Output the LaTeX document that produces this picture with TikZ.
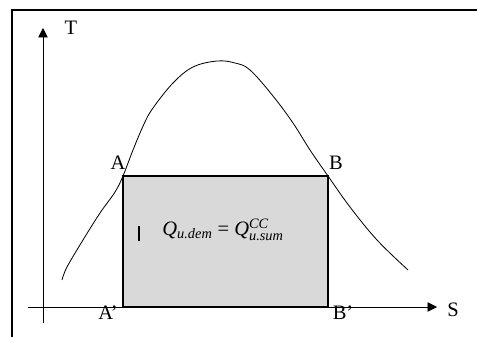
\documentclass[tikz,border=0pt]{standalone}
\usepackage{fontspec}
\setmainfont{Liberation Serif}
\usepackage{amsmath}
\usetikzlibrary{arrows.meta,positioning}
\definecolor{AreaGray}{RGB}{217,217,217}
\begin{document}
\begin{tikzpicture}[
  x=0.03cm, y=-0.03cm,
  font=\fontsize{17.5}{21}\selectfont,
  frameline/.style={line width=1.6pt},
  axis/.style={line width=0.6pt, -{Triangle[length=8pt,width=8pt]}},
  area/.style={fill=AreaGray, draw=black, line width=1.2pt},
  dome/.style={line width=0.7pt},
  point/.style={inner sep=0pt}
]
\useasboundingbox (0,0) rectangle (477,336);

% Cadre
\draw[frameline] (12,340) -- (12,10) -- (480,10);

% Axes
\coordinate (origin) at (43,307);
\coordinate (ytip) at (43,28);
\coordinate (xtip) at (437,307);
\draw[axis] (43,323) -- (ytip);
\draw[axis] (28,307) -- (xtip);
\node[point] (labT) at (71,28) {T};
\node[point] (labS) at (453,310) {S};

% Surface sous le palier
\coordinate (A)  at (123,176);
\coordinate (B)  at (328,176);
\coordinate (Ap) at (123,307);
\coordinate (Bp) at (328,307);
\draw[area] (A) -- (B) -- (Bp) -- (Ap) -- cycle;

% Courbe de saturation
\draw[dome] plot[smooth, tension=0.6] coordinates {
  (62,280) (67,267) (83,240) (100,213) (115,192) (123,176)
  (133,150) (144,124) (153,108) (173,83) (193,67) (217,61)
  (235,63) (250,70) (273,96) (293,123) (310,150) (328,176)
  (350,207) (377,240) (408,270)};

% Points
\node[point] (labA)  at (118,163) {A};
\node[point] (labB)  at (336,163) {B};
\node[point] (labAp) at (108,313) {A’};
\node[point] (labBp) at (343,313) {B’};

% Bilan
\draw[line width=1.2pt] (139,226) -- (139,241);
\node (qeq) at (223,230) {\textit{Q}$_{\textit{u.dem}}$ = \textit{Q}$^{\textit{CC}}_{\textit{u.sum}}$};
\end{tikzpicture}
\end{document}
